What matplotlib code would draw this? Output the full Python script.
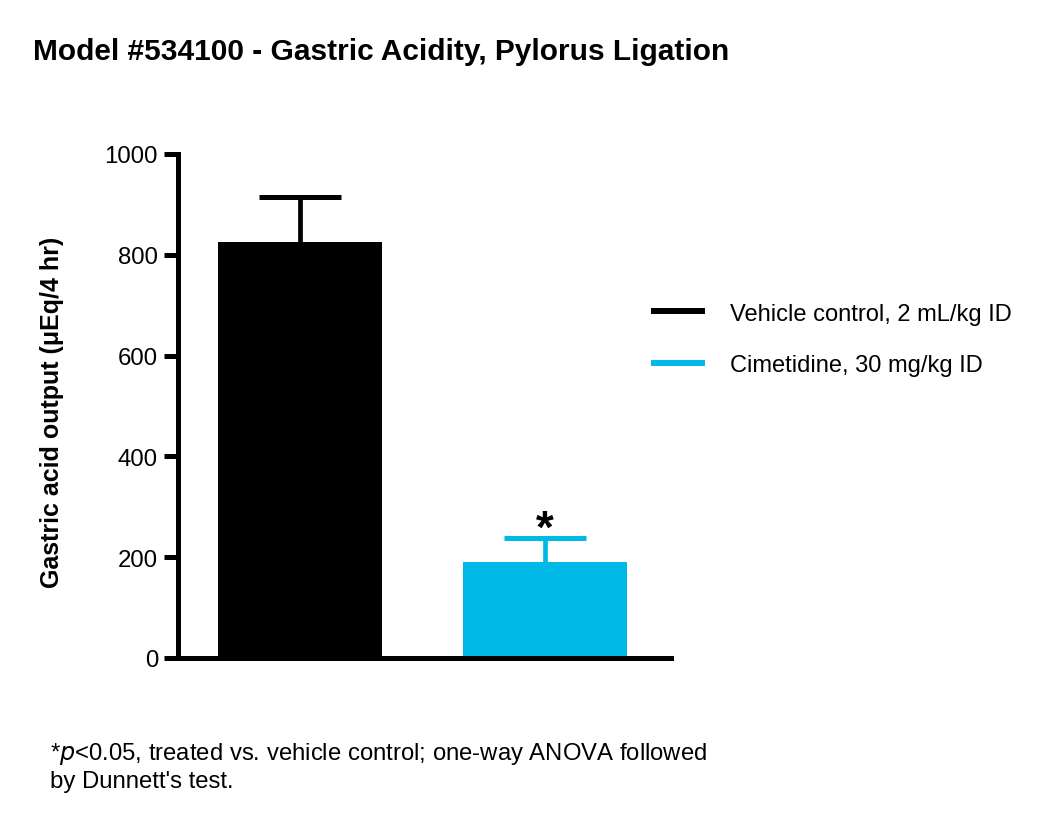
import matplotlib
matplotlib.use("Agg")
import matplotlib.pyplot as plt
from matplotlib.lines import Line2D

plt.rcParams['font.family'] = ['Liberation Sans', 'DejaVu Sans']

groups = ["Vehicle control, 2 mL/kg ID", "Cimetidine, 30 mg/kg ID"]
means = [825, 191]
sems = [89, 47]
colors = ["#000000", "#00B9E6"]
yticks = [0, 200, 400, 600, 800, 1000]

fig = plt.figure(figsize=(10.5, 8.29), dpi=100)
ax = fig.add_axes([0.16905, 0.20507, 0.63876 - 0.16905, 0.81303 - 0.20507])

x = list(range(len(means)))
ax.bar(x, means, width=0.669, color=colors, zorder=3)
for xi, m, s, c in zip(x, means, sems, colors):
    ax.errorbar([xi], [m], yerr=[s], fmt='none', ecolor=c,
                elinewidth=3.4, capsize=29.5, capthick=3.6, zorder=2)

ax.text(x[1], means[1] + sems[1] - 27, "*", ha='center', va='bottom',
        fontsize=33, fontweight='bold')

ax.set_xlim(-0.5, 1.513)
ax.set_ylim(0, 1000)
ax.set_yticks(yticks)
ax.set_yticklabels([str(t) for t in yticks], fontsize=17.3)
ax.set_xticks([])
for side in ['top', 'right']:
    ax.spines[side].set_visible(False)
for side in ['left', 'bottom']:
    ax.spines[side].set_linewidth(3.6)
    ax.spines[side].set_zorder(4)
ax.tick_params(axis='y', length=10, width=3.6, pad=4)
ax.set_ylabel("Gastric acid output (μEq/4 hr)", fontsize=18, fontweight='bold')
ax.yaxis.set_label_coords(-0.255, 0.49)
ax.yaxis.label.set_va('center')

handles = [Line2D([0], [0], color=c, lw=4.3) for c in colors]
fig.legend(handles, groups, loc='center left', bbox_to_anchor=(0.6229, 0.5893),
           frameon=False, fontsize=17, handlelength=2.05, handletextpad=1.18,
           labelspacing=1.25, borderpad=0, borderaxespad=0)

fig.text(33 / 1050, 1 - 52 / 829, "Model #534100 - Gastric Acidity, Pylorus Ligation",
         fontsize=21.5, fontweight='bold', va='center', ha='left')

fig.text(50 / 1050, 1 - 767 / 829,
         "*$\\it{p}$<0.05, treated vs. vehicle control; one-way ANOVA followed\nby Dunnett's test.",
         fontsize=17.2, va='center', ha='left', linespacing=1.25)

fig.savefig("out.png", dpi=100)
